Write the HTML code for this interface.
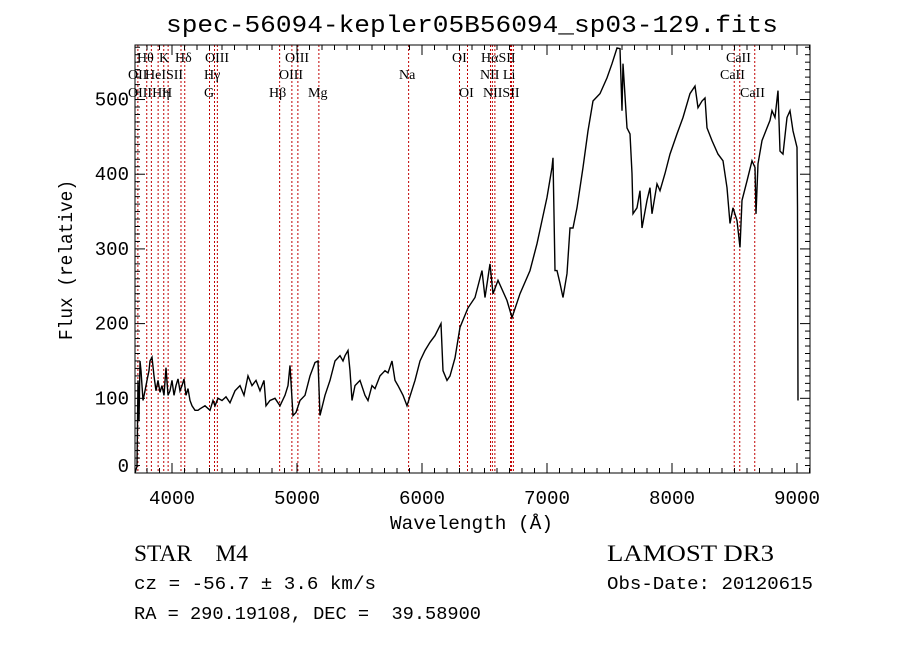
<!DOCTYPE html>
<html><head><meta charset="utf-8"><style>
body{margin:0;background:#fff}
svg{display:block}
text{font-family:"Liberation Mono",monospace;fill:#000}
.ln{font-family:"Liberation Serif",serif;font-size:14px}
</style></head><body>
<svg id="chart" width="900" height="649" viewBox="0 0 900 649" xmlns="http://www.w3.org/2000/svg">
<rect width="900" height="649" fill="#fff"/>
<text x="472" y="32" text-anchor="middle" font-size="24" textLength="612" lengthAdjust="spacingAndGlyphs">spec-56094-kepler05B56094_sp03-129.fits</text>
<g id="lines"></g>
<g id="axes"></g>
<path id="spec" fill="none" stroke="#000" stroke-width="1.4"/>
<text x="390" y="529" font-size="19" textLength="163" lengthAdjust="spacingAndGlyphs">Wavelength (Å)</text>
<text transform="translate(72,260) rotate(-90)" text-anchor="middle" font-size="19" textLength="160" lengthAdjust="spacingAndGlyphs">Flux (relative)</text>
<text x="134" y="561" font-size="23" style="font-family:'Liberation Serif',serif" textLength="114" lengthAdjust="spacingAndGlyphs">STAR&#160;&#160;&#160;&#160;M4</text>
<text x="607" y="561" font-size="23" style="font-family:'Liberation Serif',serif" textLength="167" lengthAdjust="spacingAndGlyphs">LAMOST DR3</text>
<text x="134" y="589" font-size="18" textLength="242" lengthAdjust="spacingAndGlyphs">cz = -56.7 ± 3.6 km/s</text>
<text x="607" y="589" font-size="18" textLength="206" lengthAdjust="spacingAndGlyphs">Obs-Date: 20120615</text>
<text x="134" y="619" font-size="18" xml:space="preserve" textLength="347" lengthAdjust="spacingAndGlyphs">RA = 290.19108, DEC =  39.58900</text>
</svg>
<script>
const waves=[3704,3720,3728,3736,3744,3752,3768,3784,3800,3816,3824,3840,3856,3872,3888,3904,3920,3936,3952,3968,3984,4000,4016,4032,4048,4064,4080,4096,4112,4128,4144,4160,4184,4208,4224,4264,4304,4328,4344,4368,4400,4432,4464,4504,4544,4576,4608,4640,4672,4704,4736,4752,4784,4824,4864,4904,4928,4944,4968,4992,5024,5064,5104,5144,5168,5184,5224,5264,5304,5344,5368,5384,5408,5424,5440,5464,5504,5544,5568,5600,5624,5664,5704,5728,5760,5784,5808,5848,5880,5944,5984,6024,6064,6104,6152,6168,6200,6224,6264,6304,6368,6424,6480,6504,6544,6568,6608,6680,6720,6784,6864,6920,6960,7000,7040,7048,7064,7080,7104,7128,7160,7184,7208,7240,7288,7328,7368,7424,7480,7520,7560,7584,7600,7608,7640,7664,7680,7688,7720,7744,7760,7800,7824,7840,7880,7904,7944,7984,8040,8088,8144,8184,8208,8240,8264,8280,8320,8368,8408,8440,8464,8488,8520,8544,8560,8600,8640,8664,8672,8688,8720,8760,8784,8800,8824,8848,8864,8888,8920,8944,8968,9000,9004,9008];
const fluxes=[0,9,124,70,150,137,97,110,124,137,150,155,130,110,124,108,117,104,141,104,110,124,104,117,126,110,117,126,104,113,97,90,84,84,86,90,84,97,90,100,97,102,94,110,117,104,130,117,124,110,124,90,97,100,90,104,117,144,77,81,97,104,130,148,150,77,104,124,150,157,150,157,164,137,97,117,124,104,97,117,113,130,137,134,150,124,117,104,90,124,150,164,175,184,200,137,124,130,154,195,221,235,271,235,280,240,258,231,208,240,271,307,338,369,409,422,271,271,254,235,267,328,328,355,409,458,498,508,529,548,569,568,485,548,462,454,401,347,355,378,328,365,382,347,387,378,401,427,454,476,508,518,489,498,502,462,445,427,418,382,334,355,338,302,365,391,418,409,347,414,445,462,472,485,476,512,431,427,476,485,458,436,355,97];
const lineWaves=[3727,3798,3835,3889,3934,3969,4072,4102,4300,4340,4363,4861,4959,5007,5175,5893,6300,6364,6548,6563,6583,6708,6716,6731,8498,8542,8662];
const lineLabels=[["Hθ",137,62],["K",159,62],["Hδ",175,62],["OIII",205,62],["OIII",285,62],["OI",452,62],["HαSII",481,62],["CaII",726,62],
["OII",128,79],["HeISII",145,79],["Hγ",204,79],["OIII",279,79],["Na",399,79],["NII Li",480,79],["CaII",720,79],
["OIIIHη",128,97],["H",162,97],["G",204,97],["Hβ",269,97],["Mg",308,97],["OI",459,97],["NIISII",483,97],["CaII",740,97]];
const xTicks=[4000,5000,6000,7000,8000,9000];
const yTicks=[0,100,200,300,400,500];
const L=135,R=810,T=45,B=473,W0=3704,W1=9104,F0=0,F1=573;
const sx=w=>L+(w-W0)/(W1-W0)*(R-L);
const sy=f=>B-(f-F0)/(F1-F0)*(B-T);
const NS="http://www.w3.org/2000/svg";
function mk(t,a,p){const e=document.createElementNS(NS,t);for(const k in a)e.setAttribute(k,a[k]);p.appendChild(e);return e;}
const ax=document.getElementById('axes'),lg=document.getElementById('lines');
lineWaves.forEach(w=>{const l=mk('line',{x1:sx(w),x2:sx(w),y1:T,y2:B,stroke:'#c00000','stroke-width':1,'stroke-dasharray':'2,2'},lg);

});
lineLabels.forEach(d=>{const t=mk('text',{x:d[1],y:d[2],class:'ln'},lg);t.textContent=d[0];

});
const fr=mk('rect',{x:L,y:T,width:R-L,height:B-T,fill:'none',stroke:'#000','stroke-width':1},ax);


for(let w=3800;w<=9100;w+=100){const maj=w%1000===0,len=maj?10:5;
mk('line',{x1:sx(w),x2:sx(w),y1:B,y2:B-len,stroke:'#000'},ax);
mk('line',{x1:sx(w),x2:sx(w),y1:T,y2:T+len,stroke:'#000'},ax);}
for(let f=10;f<F1;f+=10){const maj=f%100===0,len=maj?10:5;
mk('line',{x1:L,x2:L+len,y1:sy(f),y2:sy(f),stroke:'#000'},ax);
mk('line',{x1:R,x2:R-len,y1:sy(f),y2:sy(f),stroke:'#000'},ax);}
xTicks.forEach(w=>{const t=mk('text',{x:sx(w),y:504,'text-anchor':'middle','font-size':19,textLength:46,lengthAdjust:'spacingAndGlyphs'},ax);t.textContent=w;

});
yTicks.forEach(f=>{const t=mk('text',{x:129,y:Math.min(sy(f)+6,472),'text-anchor':'end','font-size':19},ax);t.textContent=f;

});
document.getElementById('spec').setAttribute('d',waves.map((w,i)=>(i?'L':'M')+sx(w).toFixed(1)+','+sy(fluxes[i]).toFixed(1)).join(''));
</script>
</body></html>
